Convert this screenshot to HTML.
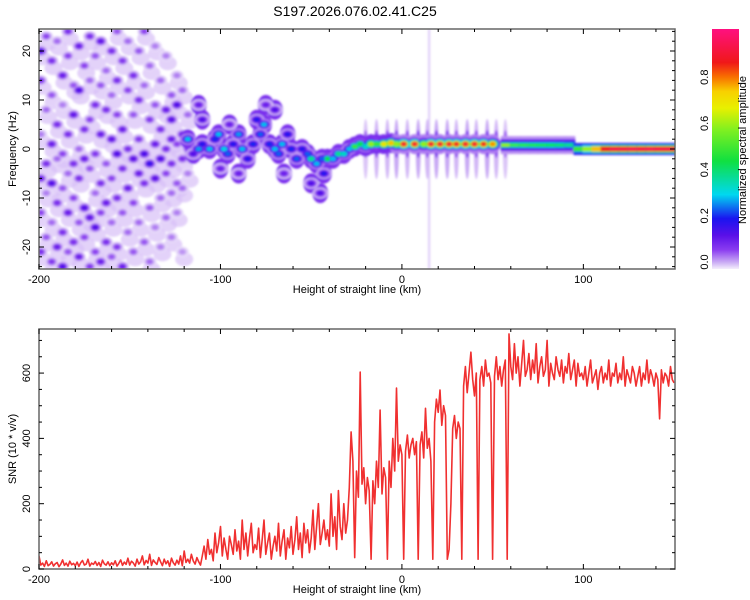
<!DOCTYPE html>
<html><head><meta charset="utf-8"><style>
html,body{margin:0;padding:0;background:#fff;}
svg{display:block;font-family:"Liberation Sans",sans-serif;}
</style></head><body>
<svg id="chart" width="750" height="600" viewBox="0 0 750 600">
<defs>
<clipPath id="clipTop"><rect x="39" y="29" width="636" height="240"/></clipPath>
<clipPath id="clipBot"><rect x="39" y="329" width="636" height="240"/></clipPath>
<filter id="soft" x="-5%" y="-5%" width="110%" height="110%"><feGaussianBlur stdDeviation="1"/></filter>
<linearGradient id="cbar" x1="0" y1="1" x2="0" y2="0">
<stop offset="0" stop-color="#f4eefc"/><stop offset="0.03" stop-color="#c8a8f4"/>
<stop offset="0.08" stop-color="#8a3cf0"/><stop offset="0.14" stop-color="#5a10e8"/>
<stop offset="0.21" stop-color="#1a14f0"/><stop offset="0.31" stop-color="#00d8f0"/>
<stop offset="0.45" stop-color="#10e040"/><stop offset="0.58" stop-color="#80f020"/>
<stop offset="0.67" stop-color="#e8f000"/><stop offset="0.74" stop-color="#f8d000"/>
<stop offset="0.8" stop-color="#f87000"/><stop offset="0.86" stop-color="#f01818"/>
<stop offset="1" stop-color="#ff1080"/>
</linearGradient>
</defs>
<text x="355" y="16" font-size="14" text-anchor="middle">S197.2026.076.02.41.C25</text>
<g id="heat" clip-path="url(#clipTop)"><g id="heatInner" filter="url(#soft)"></g></g>
<g id="topAxes"></g>
<g id="snr" clip-path="url(#clipBot)"></g>
<g id="botAxes"></g>
<rect x="712" y="29" width="27" height="240" fill="url(#cbar)"/>
<g id="cbarAxis"></g>
<text transform="translate(746,150) rotate(-90)" font-size="11" text-anchor="middle">Normalized spectral amplitude</text>
</svg>
<script>
// ---- spectrogram data: noise blobs (km, Hz, amplitude) ----
const noiseX=[-199,-199,-199,-199,-199,-199,-196,-196,-196,-196,-196,-193,-193,-193,-193,-193,-193,-190,-190,-190,-190,-190,-187,-187,-187,-187,-187,-187,-184,-184,-184,-184,-184,-184,-181,-181,-181,-181,-181,-178,-178,-178,-178,-178,-178,-175,-175,-175,-175,-175,-172,-172,-172,-172,-172,-172,-169,-169,-169,-169,-169,-169,-166,-166,-166,-166,-166,-166,-163,-163,-163,-163,-163,-160,-160,-160,-160,-160,-160,-157,-157,-157,-157,-157,-157,-154,-154,-154,-154,-154,-151,-151,-151,-151,-151,-148,-148,-148,-148,-148,-145,-145,-145,-145,-145,-142,-142,-142,-142,-142,-139,-139,-139,-139,-139,-136,-136,-136,-136,-136,-133,-133,-133,-133,-133,-130,-130,-130,-130,-130,-127,-127,-127,-127,-127,-127,-124,-124,-124,-124,-124,-121,-121,-121,-121,-121,-118,-118,-118];
const noiseY=[20,14,3,-6,-13,-21,23,8,-3,-9,-18,18,11,1,-7,-15,-23,22,5,-2,-11,-20,15,9,-1,-8,-17,-24,24,19,3,-5,-13,-21,13,7,-3,-10,-19,21,12,0,-6,-15,-22,17,4,-2,-12,-18,23,14,6,-4,-14,-24,19,9,-1,-9,-16,-21,22,13,3,-7,-13,-23,16,8,-3,-11,-19,20,11,2,-6,-15,-22,24,14,7,-1,-10,-20,18,4,-4,-13,-24,22,12,0,-8,-17,15,7,-2,-11,-21,20,10,2,-5,-15,24,13,-1,-7,-19,17,6,-3,-12,-23,21,9,1,-6,-16,14,4,-2,-10,-20,19,8,0,-5,-14,11,6,2,-3,-9,-18,15,9,1,-7,-13,12,3,-2,-8,-21,7,0,-5];
const noiseA=[.15,.1,.05,.12,.08,.1,.08,.06,.1,.05,.07,.1,.07,.12,.15,.06,.09,.06,.1,.06,.1,.12,.12,.05,.08,.07,.1,.15,.1,.08,.1,.06,.12,.07,.07,.13,.1,.08,.1,.12,.15,.06,.1,.07,.12,.08,.1,.12,.15,.08,.1,.06,.08,.07,.13,.09,.07,.1,.09,.06,.15,.08,.13,.07,.12,.1,.08,.12,.06,.1,.07,.12,.1,.1,.06,.13,.08,.06,.07,.07,.1,.08,.15,.1,.09,.09,.12,.1,.07,.12,.06,.08,.1,.12,.06,.1,.07,.14,.08,.07,.07,.1,.09,.12,.06,.08,.06,.16,.1,.07,.06,.09,.18,.07,.06,.05,.07,.12,.14,.05,.06,.1,.15,.06,.05,.05,.12,.1,.08,.06,.07,.14,.12,.1,.06,.05,.05,.15,.08,.07,.05,.06,.12,.1,.06,.04,.06,.08,.05];
// ---- ridge blobs ----
const ridgeX=[-118,-115,-112,-110,-106,-103,-101,-98,-96,-93,-90,-88,-85,-82,-80,-78,-76,-73,-70,-68,-66,-63,-61,-58,-55,-52,-50,-47,-44,-41,-38,-35,-32,-29,-26,-23,-20,-17,-14,-10,-6,-3,1,7,12,16,21,26,30,35,40,45,50,-50,-45,-43,-65,-70,-75,-90,-100,-110,-112,-95];
const ridgeY=[2,-1,0,1,0,2,3,0,-1,1,3,0,-2,1,6,3,5,1,0,-1,1,3,0,-2,0,-1,-2,-3,-2,-2,-2,-1,-1,0,0.5,1,0.5,1,1,1,1.2,1,1,1,1,1,1,1,1,1,1,1,1,-7,-9,-5,-5,8,9,-5,-4,6,9,5];
const ridgeA=[.3,.15,.28,.2,.3,.22,.3,.32,.25,.2,.28,.3,.2,.22,.2,.25,.3,.22,.3,.25,.3,.2,.22,.25,.2,.25,.4,.3,.25,.45,.3,.4,.35,.3,.5,.45,.35,.6,.5,.7,.75,.6,.9,.9,.6,.9,.9,.9,.88,.9,.9,.88,.78,.15,.15,.2,.12,.15,.12,.12,.12,.15,.12,.12];
// ---- vertical streaks under periodic peaks ----
const streakX=[-20,-14,-8,-3,3,9,14,19,25,30,36,41,47,52,57];
const streakA=[.06,.08,.08,.1,.08,.1,.08,.1,.1,.08,.1,.08,.1,.08,.06];
// ---- smooth band 55..95 km ----
const bandX=[55,60,65,70,75,80,85,90];
const bandA=[.6,.5,.48,.47,.46,.45,.43,.4];
// ---- narrow line at high heights ----
const lineX=[95,100,105,110,115,120,125,130,135,140,145,150];
const lineA=[.5,.6,.75,.88,.92,.92,.93,.92,.93,.92,.92,.92];
// ---- SNR series, 1 km steps from -200 to 150 ----
const snrStart=-200;
const snrValues=[40,12,18,8,25,10,14,22,9,16,
20,7,15,28,11,18,9,24,13,17,
10,21,8,19,26,12,15,30,9,18,
14,23,11,20,8,27,16,12,22,10,
19,13,25,9,17,28,11,21,14,33,
12,24,18,9,30,15,22,40,13,26,
18,45,11,28,20,14,35,22,10,30,
16,25,8,33,19,12,27,15,40,10,
55,20,30,18,45,25,15,35,22,12,
40,70,30,90,45,60,25,110,50,80,
130,40,95,60,30,100,75,45,120,55,
85,30,150,60,110,40,95,140,50,75,
60,125,35,90,150,45,80,110,30,70,
100,55,140,40,85,120,30,95,65,130,
45,90,160,60,110,35,140,80,120,50,
95,180,60,130,200,75,110,150,90,120,
70,230,100,160,60,240,130,90,200,110,
150,250,420,330,35,300,220,603,260,310,
200,280,240,30,270,200,330,250,487,230,
310,280,30,330,250,400,300,554,330,380,
350,30,360,410,340,380,400,350,390,30,
380,420,340,492,370,400,330,30,450,520,
480,548,440,500,470,30,60,200,430,470,
400,450,430,30,560,620,540,600,664,580,
530,600,30,580,620,560,640,590,600,570,
30,590,650,580,620,560,610,640,30,720,
620,580,690,600,650,560,630,700,590,610,
660,580,640,600,690,570,620,650,590,610,
700,560,630,600,580,650,610,590,640,570,
620,600,660,580,610,640,560,630,590,600,
580,620,560,600,640,570,590,610,550,600,
620,570,600,580,640,560,600,590,630,570,
600,580,650,560,610,590,570,620,600,560,
590,620,560,600,580,640,570,610,590,560,
600,580,460,610,570,600,590,560,620,580,
570];
const xTicks=[-200,-100,0,100];
const freqTicks=[-20,-10,0,10,20];
const snrTicks=[0,200,400,600];
const cbarTicks=["0.0","0.2","0.4","0.6","0.8"];

const NS="http://www.w3.org/2000/svg";
const X0=39,X1=675,TOP0=29,TOP1=269,BOT0=329,BOT1=569;
const kmMin=-200,kmMax=150.5;
function xs(km){return X0+(km-kmMin)/(kmMax-kmMin)*(X1-X0);}
function yf(hz){return 149-hz*4.9;}
function ys(v){return BOT1-v*(BOT1-BOT0)/735;}
function mk(tag,attrs,parent){const e=document.createElementNS(NS,tag);for(const k in attrs)e.setAttribute(k,attrs[k]);parent.appendChild(e);return e;}
const stops=[[0,[244,238,252]],[.03,[200,168,244]],[.08,[138,60,240]],[.14,[90,16,232]],[.21,[26,20,240]],[.31,[0,216,240]],[.45,[16,224,64]],[.58,[128,240,32]],[.67,[232,240,0]],[.74,[248,208,0]],[.8,[248,112,0]],[.86,[240,24,24]],[1,[255,16,128]]];
function cmap(v){v=Math.max(0,Math.min(1,v));for(let i=1;i<stops.length;i++){if(v<=stops[i][0]){const a=stops[i-1],b=stops[i],t=(v-a[0])/(b[0]-a[0]);const c=a[1].map((q,j)=>Math.round(q+(b[1][j]-q)*t));return `rgb(${c[0]},${c[1]},${c[2]})`;}}return 'rgb(255,16,128)';}
const heat=document.getElementById('heatInner');
const fr=[.15,.35,.6,.85,1],rf=[1.4,1.1,.85,.65,.48];
function blobSet(xsArr,ysArr,asArr,sizeFn){
 for(let l=0;l<fr.length;l++){
  for(let i=0;i<xsArr.length;i++){const s=sizeFn(asArr[i]);
   const e=mk('ellipse',{cx:xs(xsArr[i]),cy:yf(ysArr[i]),rx:s[0]*rf[l],ry:s[1]*rf[l],fill:cmap(asArr[i]*fr[l])},heat);
   
   }}}
for(let i=0;i<noiseX.length;i++){const e=mk('ellipse',{cx:xs(noiseX[i]+1),cy:yf(noiseY[i]-1.5),rx:9,ry:7,fill:cmap(0.02),opacity:0.7},heat);

}
const vl=mk('rect',{x:xs(15)-1,y:TOP0,width:2,height:240,fill:cmap(0.015)},heat);


for(let i=0;i<streakX.length;i++){const e=mk('ellipse',{cx:xs(streakX[i]),cy:yf(0),rx:2.5,ry:30,fill:cmap(streakA[i]*0.3)},heat);


const e2=mk('ellipse',{cx:xs(streakX[i]),cy:yf(1),rx:2,ry:14,fill:cmap(streakA[i])},heat);

}
blobSet(noiseX,noiseY,noiseA,a=>[4.8,3.8]);
for(let i=0;i<ridgeX.length;i++){const h=mk('ellipse',{cx:xs(ridgeX[i]),cy:yf(ridgeY[i]),rx:8,ry:10,fill:cmap(ridgeX[i]<-5?0.1:0.05)},heat);

}
const segW=xs(5)-xs(0);
for(let i=0;i<bandX.length;i++){const km=bandX[i];
 const layers=[[9,0.04],[6,0.12],[4,0.22],[2.5,bandA[i]*0.7],[1.5,bandA[i]]];
 layers.forEach(l=>{const e=mk('rect',{x:xs(km)-1,y:yf(0.8)-l[0],width:segW+2,height:2*l[0],fill:cmap(l[1])},heat);
 
 });}
blobSet(ridgeX,ridgeY,ridgeA,a=>a>0.55?[5.8,4.6]:[5.5,4]);
for(let i=0;i<lineX.length;i++){const km=lineX[i];
const e=mk('rect',{x:xs(km)-1,y:yf(0)-6,width:segW+4,height:12,fill:cmap(0.2)},heat);


const e2=mk('rect',{x:xs(km)-1,y:yf(0)-4,width:segW+4,height:8,fill:cmap(lineA[i]*0.5)},heat);


const e3=mk('rect',{x:xs(km)-1,y:yf(0)-2.5,width:segW+4,height:5,fill:cmap(lineA[i])},heat);

}

function axes(g,y0,y1,yTicks,ymap,minorStep,majorSet,ylabel){
 const fr=mk('rect',{x:X0,y:y0,width:X1-X0,height:y1-y0,fill:'none',stroke:'#666','stroke-width':1.5},g);
 
 
 for(let k=-200;k<=150;k+=20){const x=xs(k),L=(k%100===0)?5:3;
  mk('line',{x1:x,x2:x,y1:y0,y2:y0+L,stroke:'#000'},g);mk('line',{x1:x,x2:x,y1:y1,y2:y1-L,stroke:'#000'},g);}
 for(const t of xTicks){const tx=mk('text',{x:xs(t),y:y1+14,'font-size':11,'text-anchor':'middle'},g);tx.textContent=t;
  
  }
 const xt=mk('text',{x:357,y:y1+24,'font-size':11,'text-anchor':'middle'},g);xt.textContent='Height of straight line (km)';
 
 
 for(const v of minorStep){const y=ymap(v),L=majorSet.includes(v)?5:3;
  mk('line',{x1:X0,x2:X0+L,y1:y,y2:y,stroke:'#000'},g);mk('line',{x1:X1,x2:X1-L,y1:y,y2:y,stroke:'#000'},g);}
 for(const t of yTicks){const tx=mk('text',{transform:`translate(30,${ymap(t)}) rotate(-90)`,'font-size':11,'text-anchor':'middle'},g);tx.textContent=t;
  
  }
 const yt=mk('text',{transform:`translate(16,${(y0+y1)/2}) rotate(-90)`,'font-size':11,'text-anchor':'middle'},g);yt.textContent=ylabel;
 
 
}
const fm=[];for(let v=-24;v<=24;v+=2)fm.push(v);
axes(document.getElementById('topAxes'),TOP0,TOP1,freqTicks,yf,fm,freqTicks,'Frequency (Hz)');
const sm=[];for(let v=0;v<=700;v+=50)sm.push(v);
const snrG=document.getElementById('snr');
let d='';snrValues.forEach((v,i)=>{d+=(i?'L':'M')+xs(snrStart+i).toFixed(1)+','+ys(v).toFixed(1);});
const p=mk('path',{d:d,fill:'none',stroke:'#f03030','stroke-width':1.6,'stroke-linejoin':'round'},snrG);


axes(document.getElementById('botAxes'),BOT0,BOT1,snrTicks,ys,sm,snrTicks,'SNR (10 * v/v)');
const cb=document.getElementById('cbarAxis');
cbarTicks.forEach(t=>{const y=262-parseFloat(t)*231;const tx=mk('text',{transform:`translate(708,${y}) rotate(-90)`,'font-size':11,'text-anchor':'middle'},cb);tx.textContent=t;

});
</script>
</body></html>
